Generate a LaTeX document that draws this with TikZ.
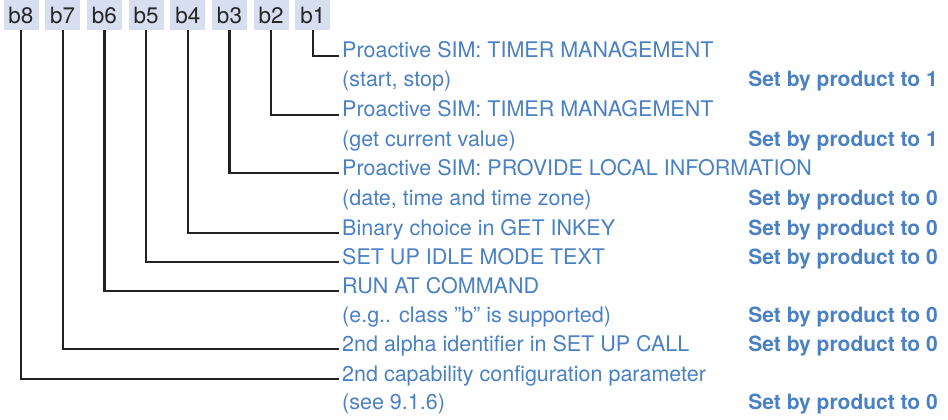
\documentclass[tikz,border=0pt]{standalone}
\usepackage{fontspec}
\setmainfont{TeX Gyre Heros}
\definecolor{txtblue}{RGB}{74,128,196}
\definecolor{boxfill}{RGB}{214,222,240}
\definecolor{linec}{RGB}{34,34,34}
\begin{document}
\begin{tikzpicture}[x=1pt,y=-1pt,
  bitbox/.style={fill=boxfill,minimum width=35pt,minimum height=30pt,inner sep=0pt,font=\fontsize{22.5}{26}\selectfont,text=black!85},
  desc/.style={anchor=base west,inner sep=0pt,text=txtblue,font=\fontsize{21.5}{26}\selectfont},
  setby/.style={anchor=base east,inner sep=0pt,text=txtblue,font=\fontsize{21}{26}\selectfont\bfseries},
  conn/.style={draw=linec,line width=2.3pt}]
\useasboundingbox (0,0) rectangle (948,420);
\foreach \i in {1,...,8}{
  \node[bitbox] (b\i) at ({21+41.7*(8-\i)},15) {b\i};
}
\node[desc] (t1) at (342,58) {Proactive SIM: TIMER MANAGEMENT};
\node[desc] (t1b) at (342,87) {(start, stop)};
\node[setby] (s1) at (938,87) {Set by product to 1};
\node[desc] (t2) at (342,117) {Proactive SIM: TIMER MANAGEMENT};
\node[desc] (t2b) at (342,146) {(get current value)};
\node[setby] (s2) at (938,146) {Set by product to 1};
\node[desc] (t3) at (342,175) {Proactive SIM: PROVIDE LOCAL INFORMATION};
\node[desc] (t3b) at (342,205) {(date, time and time zone)};
\node[setby] (s3) at (938,205) {Set by product to 0};
\node[desc] (t4) at (342,235) {Binary choice in GET INKEY};
\node[setby] (s4) at (938,235) {Set by product to 0};
\node[desc] (t5) at (342,264) {SET UP IDLE MODE TEXT};
\node[setby] (s5) at (938,264) {Set by product to 0};
\node[desc] (t6) at (342,293) {RUN AT COMMAND};
\node[desc] (t6b) at (342,322) {(e.g.. class {\char34}b{\char34} is supported)};
\node[setby] (s6) at (938,322) {Set by product to 0};
\node[desc] (t7) at (342,351) {2nd alpha identifier in SET UP CALL};
\node[setby] (s7) at (938,351) {Set by product to 0};
\node[desc] (t8) at (342,381) {2nd capability configuration parameter};
\node[desc] (t8b) at (342,409) {(see 9.1.6)};
\node[setby] (s8) at (938,409) {Set by product to 0};
\foreach \i in {1,...,8}{
  \draw[conn] (b\i.south) |- ([xshift=-3pt,yshift=2pt]t\i.base west);
}
\end{tikzpicture}
\end{document}
